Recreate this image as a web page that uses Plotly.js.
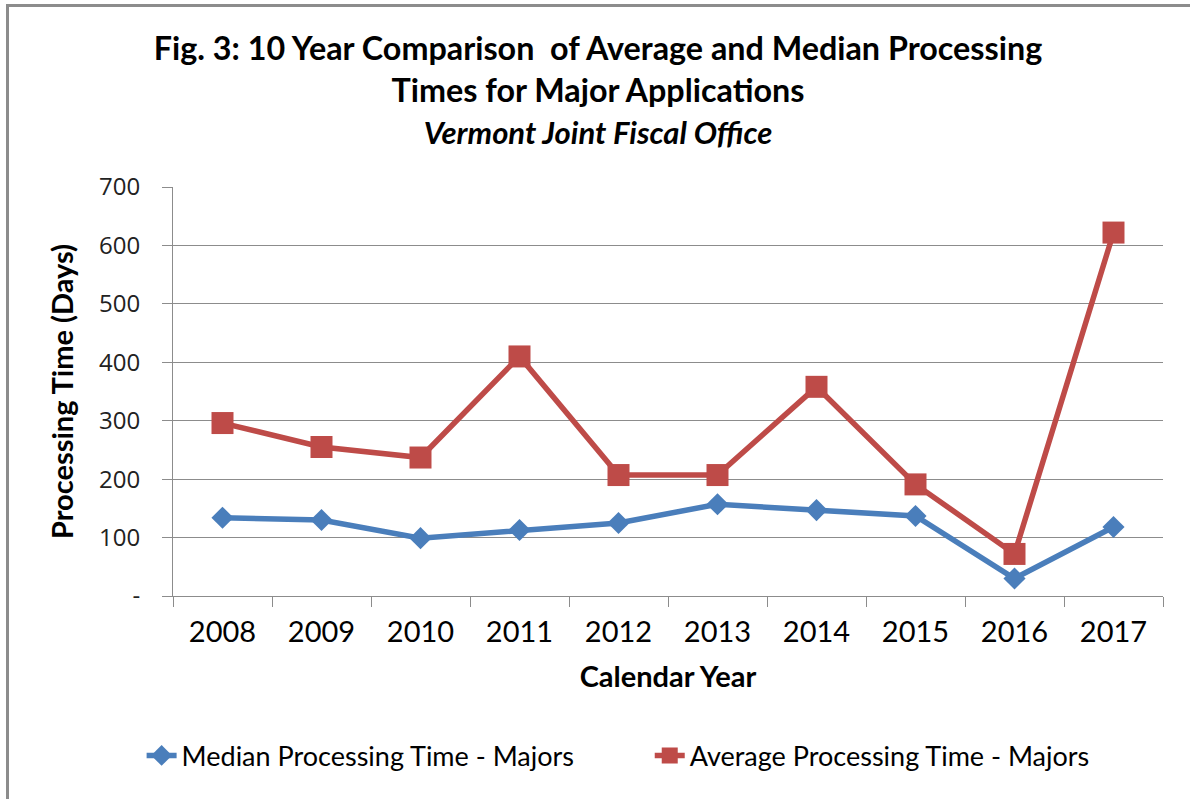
<!DOCTYPE html>
<html>
<head>
<meta charset="utf-8">
<script src="https://cdn.plot.ly/plotly-3.0.1.min.js"></script>
<style>
html,body{margin:0;padding:0;background:#fff;}
#frame{position:absolute;left:0;top:0;width:1190px;height:799px;}
#border{position:absolute;left:6px;top:4px;width:1184px;height:795px;border-top:3px solid #8c8c8c;border-left:3px solid #8c8c8c;box-sizing:border-box;pointer-events:none;z-index:5;}
#chart{position:absolute;left:0;top:0;width:1190px;height:799px;}
</style>
</head>
<body>
<div id="frame"><div id="chart"></div><div id="border"></div></div>
<script>
const years = ["2008","2009","2010","2011","2012","2013","2014","2015","2016","2017"];
const medianTimes = [134, 130, 99, 113, 125, 157, 147, 137, 30, 118];
const averageTimes = [296, 255, 237, 410, 207, 207, 358, 191, 72, 622];
const yTickVals = [0, 100, 200, 300, 400, 500, 600, 700];
const yTickText = ["-", "100", "200", "300", "400", "500", "600", "700"];

const font = "Lato, 'Open Sans', sans-serif";

const traces = [
  {
    x: years, y: medianTimes, type: "scatter", mode: "lines+markers",
    name: "Median Processing Time - Majors",
    legend: "legend",
    line: {color: "#4A7EBB", width: 5.5},
    marker: {symbol: "diamond", size: 17, color: "#4A7EBB"}
  },
  {
    x: years, y: averageTimes, type: "scatter", mode: "lines+markers",
    name: "Average Processing Time - Majors",
    legend: "legend2",
    line: {color: "#BE4B48", width: 5.5},
    marker: {symbol: "square", size: 22, color: "#BE4B48"}
  }
];

const legendBase = {
  orientation: "h",
  xanchor: "left", xref: "container",
  y: 0.054, yref: "container", yanchor: "middle",
  font: {family: font, size: 27, color: "#000"},
  bgcolor: "rgba(0,0,0,0)"
};

const layout = {
  width: 1190, height: 799,
  paper_bgcolor: "#ffffff", plot_bgcolor: "#ffffff",
  margin: {l: 173, r: 27, t: 187, b: 203},
  showlegend: true,
  font: {family: font, color: "#000"},
  title: {
    text: "<b>Fig. 3: 10 Year Comparison  of Average and Median Processing<br>Times for Major Applications</b><br><b><i><span style='font-size:31px'>Vermont Joint Fiscal Office</span></i></b>",
    font: {family: font, size: 32.3, color: "#000"},
    x: 0.5025, xref: "container", xanchor: "center",
    y: 0.925, yref: "container", yanchor: "top"
  },
  xaxis: {
    type: "category",
    range: [-0.5, 9.5],
    tickson: "boundaries",
    ticks: "outside", ticklen: 10, tickcolor: "#8c8c8c", tickwidth: 1,
    ticklabelstandoff: 10,
    showline: true, linecolor: "#8c8c8c", linewidth: 1,
    showgrid: false, zeroline: false,
    tickfont: {family: font, size: 29, color: "#000"},
    title: {text: "<b>Calendar Year</b>", font: {family: font, size: 29, color: "#000"}, standoff: 19}
  },
  yaxis: {
    range: [0, 700],
    tickvals: yTickVals, ticktext: yTickText,
    ticks: "outside", ticklen: 10, tickcolor: "#8c8c8c", tickwidth: 1,
    ticklabelstandoff: 17,
    showline: true, linecolor: "#8c8c8c", linewidth: 1,
    showgrid: true, gridcolor: "#8c8c8c", gridwidth: 1,
    zeroline: false,
    tickfont: {family: "'Open Sans', 'DejaVu Sans', sans-serif", size: 24, color: "#222"},
    title: {text: "<b>Processing Time (Days)</b>", font: {family: font, size: 29, color: "#000"}, standoff: 16}
  },
  legend: Object.assign({}, legendBase, {x: 0.119}),
  legend2: Object.assign({}, legendBase, {x: 0.546})
};

Plotly.newPlot("chart", traces, layout, {displayModeBar: false, staticPlot: true});
</script>
</body>
</html>
